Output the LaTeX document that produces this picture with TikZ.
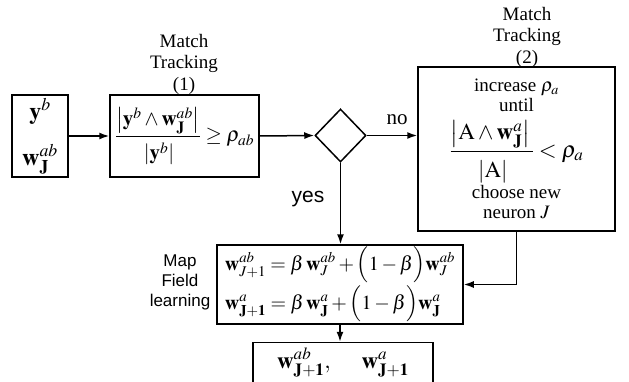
\documentclass[tikz,border=0pt]{standalone}
\usepackage{amsmath}
\usepackage{mathptmx}
\usepackage{fontspec}
\setmainfont{Liberation Serif}
\setsansfont{Liberation Sans}
\usetikzlibrary{arrows.meta,shapes.geometric}
\begin{document}
\begin{tikzpicture}[x=1pt,y=-1pt,
  box/.style={draw, line width=1.5pt, inner sep=0pt, align=center},
  arr/.style={line width=1.5pt, -{Latex[length=10pt,width=7pt]}},
  lbl/.style={align=center, inner sep=0pt, font=\fontsize{19}{21.5}\selectfont},
  every node/.append style={font=\fontsize{19}{20}\selectfont}]
\useasboundingbox (0,0) rectangle (629,382);

\node[box, minimum width=56pt, minimum height=82pt, font=\fontsize{24}{26}\selectfont] (b1) at (40,136)
  {$\mathbf{y}^{b}$\\[20pt]$\mathbf{w}^{ab}_{\mathbf{J}}$};
\node[box, minimum width=149pt, minimum height=82pt, font=\fontsize{21}{24}\selectfont] (b2) at (184.5,136)
  {$\dfrac{\left|\mathbf{y}^{b}\wedge\mathbf{w}^{ab}_{\mathbf{J}}\right|}{\rule{0pt}{20pt}\left|\mathbf{y}^{b}\right|}\geq\rho_{ab}$};
\node[draw, diamond, line width=1.5pt, minimum width=51pt, minimum height=53pt, inner sep=0pt] (d) at (340.5,135.5) {};
\node[box, minimum width=197pt, minimum height=164pt] (b3) at (516.5,149)
  {increase $\rho_a$\\until\\[7pt]{\fontsize{23}{25}\selectfont$\dfrac{\left|\mathrm{A}\wedge\mathbf{w}^{a}_{\mathbf{J}}\right|\rule[-6pt]{0pt}{6pt}}{\rule{0pt}{23pt}\left|\mathrm{A}\right|}<\rho_a$}\\[1pt]choose new\\neuron $J$};
\node[box, minimum width=246pt, minimum height=79pt, align=left, font=\fontsize{20}{24}\selectfont] (b4) at (340,284.5)
  {$\mathbf{w}^{ab}_{J+1}=\beta\,\mathbf{w}^{ab}_{J}+\Bigl(1-\beta\Bigr)\mathbf{w}^{ab}_{J}$\\[2pt]
   $\mathbf{w}^{a}_{\mathbf{J+1}}=\beta\,\mathbf{w}^{a}_{\mathbf{J}}+\Bigl(1-\beta\Bigr)\mathbf{w}^{a}_{\mathbf{J}}$};
\node[box, minimum width=180pt, minimum height=40pt, font=\fontsize{23}{25}\selectfont] (b5) at (343,362.5)
  {$\mathbf{w}^{ab}_{\mathbf{J+1}},\quad\;\mathbf{w}^{a}_{\mathbf{J+1}}$};

\node[lbl] (mt1) at (184,64) {Match\\Tracking\\(1)};
\node[lbl] (mt2) at (527,37) {Match\\Tracking\\(2)};
\node[lbl, font=\sffamily\fontsize{17}{20}\selectfont] (mfl) at (180,282) {Map\\Field\\learning};
\node[font=\fontsize{21}{24}\selectfont, inner sep=0pt] (no) at (397,120) {no};
\node[font=\sffamily\fontsize{21}{24}\selectfont, inner sep=0pt] (yes) at (308,199) {yes};

\draw[arr] (b1.east) -- (b2.west);
\draw[arr] (b2.east) -- (d.west);
\draw[arr] (d.east) -- (d.east -| b3.west);
\draw[arr] (d.south) -- (d.south |- b4.north);
\draw[arr] (b3.south) |- (b4.east);
\draw[arr] (b4.south) -- (b4.south |- b5.north);
\end{tikzpicture}
\end{document}
